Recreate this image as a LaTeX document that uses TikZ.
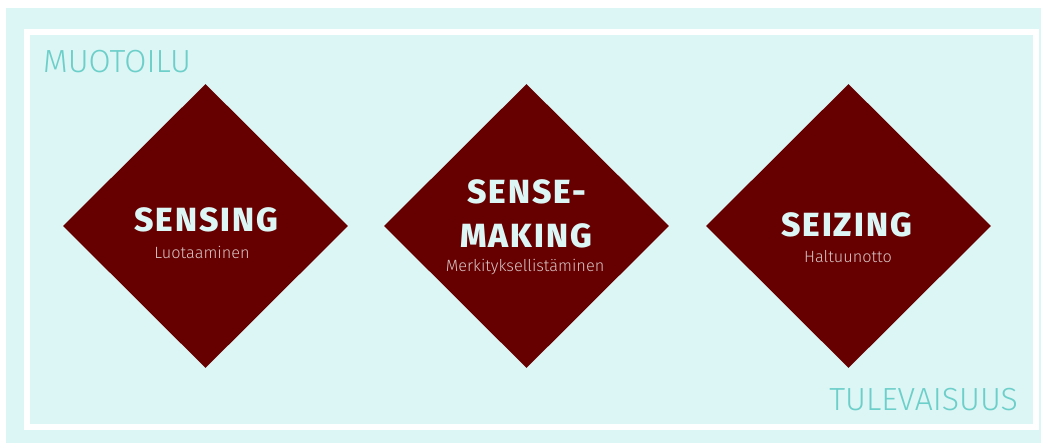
\documentclass[tikz,border=0pt]{standalone}
\usepackage{fontspec}
\setmainfont{Fira Sans}
\newfontfamily\lightfont{Fira Sans Light}
\newfontfamily\boldfont{Fira Sans ExtraBold}[LetterSpace=6]
\usetikzlibrary{shapes.geometric}
\definecolor{bgcyan}{HTML}{DCF5F5}
\definecolor{darkred}{HTML}{660000}
\definecolor{tealtext}{HTML}{6CCFC9}
\definecolor{subtext}{HTML}{D8C4C4}
\tikzset{
  diam/.style={diamond, fill=darkred, inner sep=0pt, minimum width=285pt, minimum height=284pt},
  title/.style={anchor=base, inner sep=0pt, text=bgcyan, font=\boldfont\fontsize{33.5}{36}\selectfont},
  sub/.style={anchor=base, inner sep=0pt, text=subtext, font=\lightfont\fontsize{16.3}{20}\selectfont},
  corner/.style={inner sep=0pt, text=tealtext, font=\lightfont\fontsize{32}{36}\selectfont}
}
\begin{document}
\begin{tikzpicture}[x=1pt,y=-1pt]
\useasboundingbox (0,0) rectangle (1041,443);
\fill[white] (0,0) rectangle (1041,443);
\fill[bgcyan] (6,8) rectangle (1041,443);
\draw[white, line width=6pt] (27,32) rectangle (1035.5,427);
\node[corner, anchor=base west] (muotoilu) at (43,72.7) {MUOTOILU};
\node[corner, anchor=base east] (tulevaisuus) at (1018,410) {TULEVAISUUS};
\node[diam] (d1) at (205.5,226) {};
\node[diam] (d2) at (526.5,226) {};
\node[diam] (d3) at (848.5,226) {};
\node[title] (t1) at (206.5,231.5) {SENSING};
\node[sub] (s1) at (202,258.3) {Luotaaminen};
\node[title] (t2a) at (527,204) {SENSE-};
\node[title] (t2b) at (526,248) {MAKING};
\node[sub] (s2) at (525,272) {Merkityksellistäminen};
\node[title] (t3) at (846.5,236.7) {SEIZING};
\node[sub] (s3) at (848,262.7) {Haltuunotto};
\end{tikzpicture}
\end{document}
